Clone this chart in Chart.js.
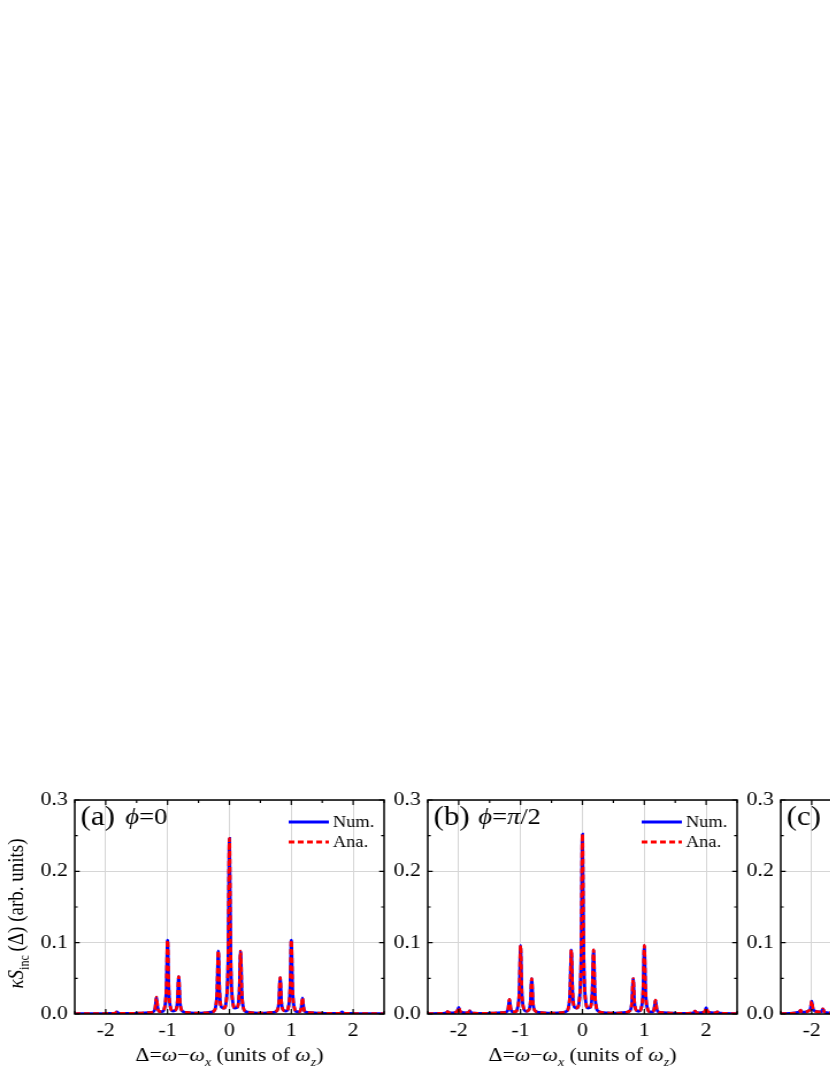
<!DOCTYPE html>
<html>
<head>
<meta charset="utf-8">
<script src="https://cdn.jsdelivr.net/npm/chart.js@4.4.1/dist/chart.umd.min.js"></script>
<style>
  html, body { margin: 0; padding: 0; background: #fff; }
  body { width: 830px; height: 1075px; position: relative; overflow: hidden; }
  .panel { position: absolute; top: 780px; width: 348px; height: 295px; transform: scaleX(1.15); transform-origin: 0 0; }
  .panel canvas { display: block; }
</style>
</head>
<body>
<div class="panel" style="left:0px"><canvas id="chartA" width="348" height="295"></canvas></div>
<div class="panel" style="left:353px"><canvas id="chartB" width="348" height="295"></canvas></div>
<div class="panel" style="left:706px"><canvas id="chartC" width="348" height="295"></canvas></div>
<script>
// detuning grid shared by the panels (units of omega_z)
const detuning = [
    -2.5, -2.3, -2.23, -2.2, -2.18, -2.16, -2.12, -2.05, -2.02, -2, -1.98, -1.95, -1.88, -1.84, -1.82, -1.8, -1.76,
    -1.6, -1.45, -1.3, -1.23, -1.2, -1.18, -1.16, -1.13, -1.09, -1.05, -1.02, -1, -0.98, -0.95, -0.91, -0.87,
    -0.84, -0.82, -0.8, -0.77, -0.7, -0.55, -0.4, -0.3, -0.25, -0.23, -0.2, -0.18, -0.16, -0.13, -0.09, -0.05,
    -0.02, 0,
    0.02, 0.05, 0.09, 0.13, 0.16, 0.18, 0.2, 0.23, 0.25, 0.3, 0.4, 0.55, 0.7, 0.77, 0.8, 0.82, 0.84, 0.87,
    0.91, 0.95, 0.98, 1, 1.02, 1.05, 1.09, 1.13, 1.16, 1.18, 1.2, 1.23, 1.3, 1.45, 1.6, 1.76, 1.8, 1.82,
    1.84, 1.88, 1.95, 1.98, 2, 2.02, 2.05, 2.12, 2.16, 2.18, 2.2, 2.23, 2.3, 2.5
];

// (a) phi = 0
const spectrumA = [
    0.0003, 0.0004, 0.0004, 0.0005, 0.0005, 0.0005, 0.0005, 0.0006, 0.0006, 0.0006, 0.0007, 0.0007, 0.0009, 0.0016, 0.0030, 0.0016, 0.0009,
    0.0008, 0.0012, 0.0020, 0.0030, 0.0085, 0.0235, 0.0090, 0.0032, 0.0032, 0.0085, 0.0350, 0.1035, 0.0350, 0.0085, 0.0040, 0.0055,
    0.0180, 0.0525, 0.0180, 0.0050, 0.0022, 0.0012, 0.0015, 0.0025, 0.0042, 0.0072, 0.0300, 0.0885, 0.0320, 0.0095, 0.0082, 0.0190,
    0.0820, 0.2460,
    0.0820, 0.0190, 0.0082, 0.0095, 0.0320, 0.0880, 0.0300, 0.0072, 0.0042, 0.0025, 0.0015, 0.0012, 0.0022, 0.0050, 0.0175, 0.0510, 0.0175, 0.0055,
    0.0040, 0.0085, 0.0350, 0.1035, 0.0350, 0.0085, 0.0032, 0.0030, 0.0085, 0.0225, 0.0080, 0.0028, 0.0020, 0.0012, 0.0008, 0.0009, 0.0016, 0.0030,
    0.0016, 0.0009, 0.0007, 0.0007, 0.0006, 0.0006, 0.0006, 0.0005, 0.0005, 0.0005, 0.0005, 0.0004, 0.0004, 0.0003
];

// (b) phi = pi/2
const spectrumB = [
    0.0004, 0.0008, 0.0012, 0.0017, 0.0032, 0.0018, 0.0015, 0.0024, 0.0042, 0.0092, 0.0042, 0.0024, 0.0016, 0.0022, 0.0042, 0.0021, 0.0012,
    0.0009, 0.0012, 0.0019, 0.0027, 0.0075, 0.0205, 0.0080, 0.0030, 0.0030, 0.0080, 0.0325, 0.0960, 0.0325, 0.0080, 0.0038, 0.0052,
    0.0170, 0.0495, 0.0170, 0.0048, 0.0022, 0.0012, 0.0015, 0.0025, 0.0043, 0.0074, 0.0305, 0.0900, 0.0325, 0.0097, 0.0084, 0.0195,
    0.0840, 0.2520,
    0.0840, 0.0195, 0.0084, 0.0097, 0.0325, 0.0900, 0.0305, 0.0074, 0.0043, 0.0025, 0.0015, 0.0012, 0.0022, 0.0048, 0.0170, 0.0495, 0.0170, 0.0052,
    0.0038, 0.0080, 0.0325, 0.0960, 0.0325, 0.0080, 0.0030, 0.0029, 0.0073, 0.0195, 0.0073, 0.0026, 0.0019, 0.0012, 0.0009, 0.0012, 0.0020, 0.0040,
    0.0021, 0.0016, 0.0023, 0.0040, 0.0090, 0.0040, 0.0023, 0.0015, 0.0017, 0.0030, 0.0016, 0.0011, 0.0008, 0.0004
];

// (c) only the left edge is inside the picture
const spectrumC = [
    0.0005, 0.0012, 0.0022, 0.0030, 0.0055, 0.0030, 0.0026, 0.0045, 0.0075, 0.0180, 0.0075, 0.0042, 0.0030, 0.0036, 0.0072, 0.0036, 0.0020,
    0.0012, 0.0012, 0.0015, 0.0020, 0.0050, 0.0120, 0.0050, 0.0020, 0.0020, 0.0060, 0.0220, 0.0650, 0.0220, 0.0060, 0.0030, 0.0040,
    0.0120, 0.0350, 0.0120, 0.0040, 0.0020, 0.0010, 0.0015, 0.0025, 0.0040, 0.0070, 0.0280, 0.0850, 0.0300, 0.0090, 0.0080, 0.0190,
    0.0800, 0.2400,
    0.0800, 0.0190, 0.0080, 0.0090, 0.0300, 0.0850, 0.0280, 0.0070, 0.0040, 0.0025, 0.0015, 0.0010, 0.0020, 0.0040, 0.0120, 0.0350, 0.0120, 0.0040,
    0.0030, 0.0060, 0.0220, 0.0650, 0.0220, 0.0060, 0.0020, 0.0020, 0.0050, 0.0120, 0.0050, 0.0020, 0.0015, 0.0012, 0.0012, 0.0020, 0.0036, 0.0072,
    0.0036, 0.0030, 0.0042, 0.0075, 0.0180, 0.0075, 0.0045, 0.0026, 0.0030, 0.0055, 0.0030, 0.0022, 0.0012, 0.0005
];

const xTicks = [-2, -1, 0, 1, 2];
const yTicks = [0, 0.1, 0.2, 0.3];
const seriesLabels = ['Num.', 'Ana.'];

const SERIF = "'Liberation Serif', 'Times New Roman', serif";
const font = (size, style = '') => `${style} ${size}px ${SERIF}`.trim();

// draws a row of text pieces with their own fonts (sub/superscripts)
function drawRuns(ctx, runs, x, y, align) {
    let total = 0;
    runs.forEach(r => { ctx.font = r.font; total += ctx.measureText(r.t).width; });
    let cx = align === 'center' ? x - total / 2 : x;
    ctx.textAlign = 'left';
    runs.forEach(r => {
        ctx.font = r.font;
        ctx.fillText(r.t, cx, y + (r.dy || 0));
        cx += ctx.measureText(r.t).width;
    });
}

// box frame with inward major/minor ticks on all four sides
const framePlugin = {
    id: 'frame',
    afterDatasetsDraw(chart) {
        const { ctx, chartArea: a, scales: { x, y } } = chart;
        ctx.save();
        ctx.strokeStyle = '#000';
        ctx.lineWidth = 1.2;
        ctx.beginPath();
        for (let i = -5; i <= 5; i++) {
            const px = x.getPixelForValue(i / 2);
            const len = i % 2 === 0 ? 5 : 3;
            ctx.moveTo(px, a.bottom); ctx.lineTo(px, a.bottom - len);
            ctx.moveTo(px, a.top); ctx.lineTo(px, a.top + len);
        }
        for (let i = 0; i <= 6; i++) {
            const py = y.getPixelForValue(i * 0.05);
            const len = i % 2 === 0 ? 4.3 : 2.6;
            ctx.moveTo(a.left, py); ctx.lineTo(a.left + len, py);
            ctx.moveTo(a.right, py); ctx.lineTo(a.right - len, py);
        }
        ctx.stroke();
        ctx.lineWidth = 1.5;
        ctx.strokeRect(a.left, a.top, a.right - a.left, a.bottom - a.top);
        ctx.restore();
    }
};

// panel tag, legend and axis titles
const textPlugin = {
    id: 'panelText',
    afterDraw(chart, args, opts) {
        const { ctx, chartArea: a } = chart;
        ctx.save();
        ctx.fillStyle = '#000';
        ctx.textBaseline = 'alphabetic';

        drawRuns(ctx, [{ t: opts.tag, font: font(27) }], a.left + 5, a.top + 25);
        if (opts.phi) drawRuns(ctx, opts.phi, a.left + 44, a.top + 24);

        if (opts.legend) {
            const sets = chart.data.datasets;
            [sets[1], sets[0]].forEach((ds, i) => {
                const ly = a.top + 22 + i * 20;
                ctx.strokeStyle = ds.borderColor;
                ctx.lineWidth = ds.borderWidth;
                ctx.setLineDash(ds.borderDash || []);
                ctx.beginPath();
                ctx.moveTo(a.left + 186, ly);
                ctx.lineTo(a.left + 221, ly);
                ctx.stroke();
                ctx.setLineDash([]);
                ctx.textBaseline = 'middle';
                drawRuns(ctx, [{ t: ds.label, font: font(16) }], a.left + 224.5, ly + 1);
                ctx.textBaseline = 'alphabetic';
            });
        }

        // x title: Δ=ω−ω_x (units of ω_z)
        drawRuns(ctx, [
            { t: 'Δ=', font: font(19) },
            { t: 'ω', font: font(19, 'italic') },
            { t: '−', font: font(19) },
            { t: 'ω', font: font(19, 'italic') },
            { t: 'x', font: font(12, 'italic'), dy: 5 },
            { t: ' (units of ', font: font(19) },
            { t: 'ω', font: font(19, 'italic') },
            { t: 'z', font: font(12, 'italic'), dy: 5 },
            { t: ')', font: font(19) }
        ], (a.left + a.right) / 2, 281, 'center');

        if (opts.yTitle) {
            ctx.translate(20, 133.5);
            ctx.rotate(-Math.PI / 2);
            drawRuns(ctx, [
                { t: 'κS', font: font(19, 'italic') },
                { t: 'inc', font: font(12), dy: 5 },
                { t: '\u2009(Δ) (arb. units)', font: font(19) }
            ], 0, 0, 'center');
        }
        ctx.restore();
    }
};

class SpectrumPanel {
    constructor(canvasId, values, text) {
        this.canvas = document.getElementById(canvasId);
        this.points = detuning.map((d, i) => ({ x: d, y: values[i] }));
        this.text = text;
        this.draw();
    }

    draw() {
        const tickFont = { family: SERIF, size: 19 };
        new Chart(this.canvas.getContext('2d'), {
            type: 'line',
            data: {
                datasets: [
                    {
                        label: seriesLabels[1],
                        data: this.points,
                        borderColor: '#ff0000',
                        borderWidth: 2.8,
                        borderDash: [5, 3],
                        pointRadius: 0,
                        cubicInterpolationMode: 'monotone',
                        order: 1
                    },
                    {
                        label: seriesLabels[0],
                        data: this.points,
                        borderColor: '#0000ff',
                        borderWidth: 2.8,
                        pointRadius: 0,
                        cubicInterpolationMode: 'monotone',
                        order: 2
                    }
                ]
            },
            options: {
                responsive: false,
                animation: false,
                layout: { padding: { top: 20, right: 14, left: 0, bottom: 0 } },
                scales: {
                    x: {
                        type: 'linear',
                        min: -2.5,
                        max: 2.5,
                        afterBuildTicks: s => { s.ticks = xTicks.map(v => ({ value: v })); },
                        afterFit: s => { s.height = 61; },
                        grid: { color: '#d6d6d6', lineWidth: 1, drawTicks: false },
                        border: { display: false },
                        ticks: { font: tickFont, color: '#000', padding: 6, maxRotation: 0, callback: v => String(v) }
                    },
                    y: {
                        min: 0,
                        max: 0.3,
                        afterBuildTicks: s => { s.ticks = yTicks.map(v => ({ value: v })); },
                        afterFit: s => { s.width = 65; },
                        grid: { color: '#d6d6d6', lineWidth: 1, drawTicks: false },
                        border: { display: false },
                        ticks: { font: tickFont, color: '#000', padding: 6, callback: v => v.toFixed(1) }
                    }
                },
                plugins: {
                    legend: { display: false },
                    tooltip: { enabled: false },
                    panelText: this.text
                }
            },
            plugins: [framePlugin, textPlugin]
        });
    }
}

window.addEventListener('load', () => {
    new SpectrumPanel('chartA', spectrumA, {
        tag: '(a)',
        phi: [{ t: '\u03D5', font: font(23, 'italic') }, { t: '=0', font: font(23) }],
        legend: true,
        yTitle: true
    });
    new SpectrumPanel('chartB', spectrumB, {
        tag: '(b)',
        phi: [{ t: '\u03D5', font: font(23, 'italic') }, { t: '=', font: font(23) }, { t: 'π', font: font(23, 'italic') }, { t: '/2', font: font(23) }],
        legend: true,
        yTitle: false
    });
    new SpectrumPanel('chartC', spectrumC, {
        tag: '(c)',
        phi: null,
        legend: true,
        yTitle: false
    });
});
</script>
</body>
</html>
